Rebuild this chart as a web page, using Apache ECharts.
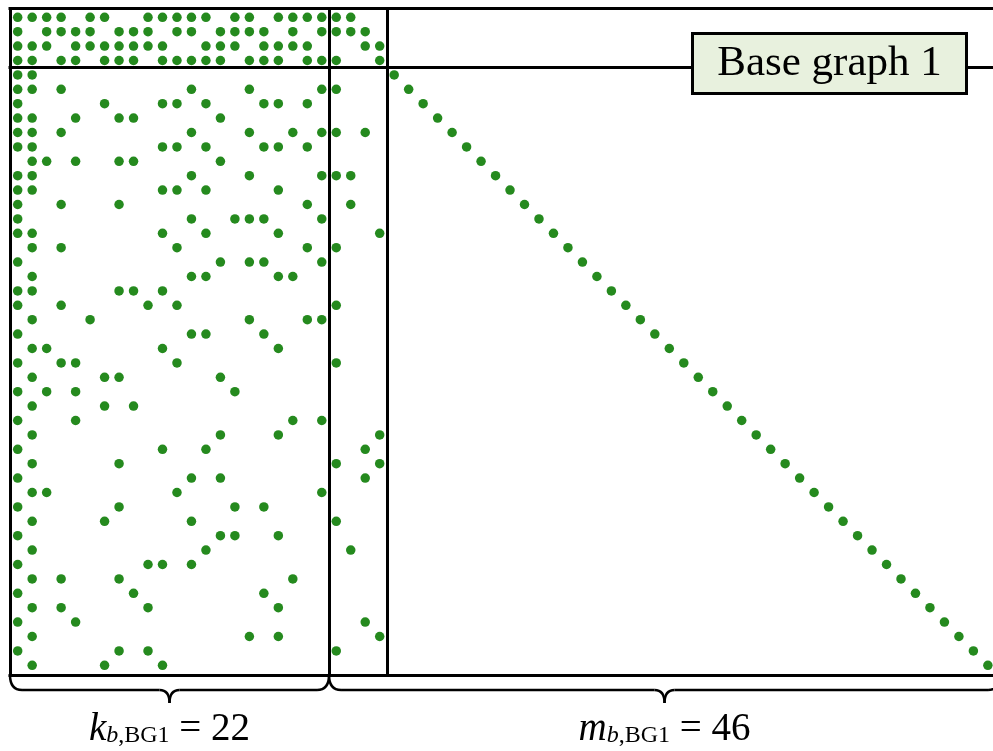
<!DOCTYPE html>
<html><head><meta charset="utf-8">
<script src="https://cdn.jsdelivr.net/npm/echarts@6/dist/echarts.min.js"></script>
<style>html,body{margin:0;padding:0;background:#fff}#c{width:993px;height:751px}</style>
</head><body><div id="c"></div>
<script>
// LDPC base graph 1: 46 rows x 68 columns, non-zero column indices per row
const kb = 22;          // information columns
const mb = 46;          // parity columns / rows
const coreParity = 4;   // core parity columns / core rows
const coreRows = [
  [0,1,2,3,5,6,9,10,11,12,13,15,16,18,19,20,21,22,23],
  [0,2,3,4,5,7,8,9,11,12,14,15,16,17,19,21,22,23,24],
  [0,1,2,4,5,6,7,8,9,10,13,14,15,17,18,19,20,24,25],
  [0,1,3,4,6,7,8,10,11,12,13,14,16,17,18,20,21,22,25]
];
const extRows = [
  [0,1,26],
  [0,1,3,12,16,21,22,27],
  [0,6,10,11,13,17,18,20,28],
  [0,1,4,7,8,14,29],
  [0,1,3,12,16,19,21,22,24,30],
  [0,1,10,11,13,17,18,20,31],
  [1,2,4,7,8,14,32],
  [0,1,12,16,21,22,23,33],
  [0,1,10,11,13,18,34],
  [0,3,7,20,23,35],
  [0,12,15,16,17,21,36],
  [0,1,10,13,18,25,37],
  [1,3,11,20,22,38],
  [0,14,16,17,21,39],
  [1,12,13,18,19,40],
  [0,1,7,8,10,41],
  [0,3,9,11,22,42],
  [1,5,16,20,21,43],
  [0,12,13,17,44],
  [1,2,10,18,45],
  [0,3,4,11,22,46],
  [1,6,7,14,47],
  [0,2,4,15,48],
  [1,6,8,49],
  [0,4,19,21,50],
  [1,14,18,25,51],
  [0,10,13,24,52],
  [1,7,22,25,53],
  [0,12,14,24,54],
  [1,2,11,21,55],
  [0,7,15,17,56],
  [1,6,12,22,57],
  [0,14,15,18,58],
  [1,13,23,59],
  [0,9,10,12,60],
  [1,3,7,19,61],
  [0,8,17,62],
  [1,3,9,18,63],
  [0,4,24,64],
  [1,16,18,25,65],
  [0,7,9,22,66],
  [1,6,10,67]
];
const titleText = 'Base graph 1';
const kLabel = {sym: 'k', sub: 'b', subRest: ',BG1', value: '22'};
const mLabel = {sym: 'm', sub: 'b', subRest: ',BG1', value: '46'};

const points = [];
coreRows.concat(extRows).forEach((cols, r) => cols.forEach(c => points.push([c, r])));

// frame extents in matrix units
const fL = -0.53, fR = 67.84, fT = -0.61, fB = 45.67;
const divK = kb - 0.5, divP = kb + coreParity - 0.5, divR = coreParity - 0.5;
const frameLines = [
  [[fL, fT], [fR, fT]],
  [[fL, divR], [fR, divR]],
  [[fL, fB], [fR, fB]],
  [[fL, fT], [fL, fB]],
  [[divK, fT], [divK, fB]],
  [[divP, fT], [divP, fB]]
].map(c => ({coords: c}));

const chart = echarts.init(document.getElementById('c'));
chart.setOption({
  animation: false,
  backgroundColor: '#ffffff',
  grid: {left: 0, right: 0, top: 0, bottom: 0},
  xAxis: {type: 'value', min: -1.222, max: 67.354, show: false},
  yAxis: {type: 'value', min: -1.201, max: 50.951, inverse: true, show: false},
  series: [
    {
      type: 'lines', coordinateSystem: 'cartesian2d', clip: false, z: 1,
      lineStyle: {color: '#000', width: 3, opacity: 1, cap: 'square'},
      data: frameLines
    },
    {
      type: 'scatter', symbol: 'circle', symbolSize: 9.5, z: 3, clip: false,
      itemStyle: {color: '#258a1e', opacity: 1},
      data: points
    }
  ]
});

const px = (x, y) => chart.convertToPixel({gridIndex: 0}, [x, y]);
const braceStyle = {stroke: '#000', lineWidth: 2.5, fill: null};
function braceParts(xa, xb, y0) {
  const d = 15, r = 12, tip = 13, w = 10, xm = (xa + xb) / 2, y1 = y0 + d;
  const bz = (x1, y1_, cx, cy, x2, y2) => ({type: 'bezierCurve', shape: {x1: x1, y1: y1_, x2: x2, y2: y2, cpx1: cx, cpy1: cy}, style: braceStyle});
  const ln = (x1, y1_, x2, y2) => ({type: 'line', shape: {x1: x1, y1: y1_, x2: x2, y2: y2}, style: braceStyle});
  return [
    bz(xa, y0, xa, y1, xa + r, y1),
    ln(xa + r, y1, xm - w, y1),
    bz(xm - w, y1, xm, y1, xm, y1 + tip),
    bz(xm, y1 + tip, xm, y1, xm + w, y1),
    ln(xm + w, y1, xb - r, y1),
    bz(xb - r, y1, xb, y1, xb, y0)
  ];
}
const serif = 'Liberation Serif';
function richLabel(l) {
  return {
    text: `{i|${l.sym}}{si|${l.sub}}{s|${l.subRest}}{n| = ${l.value}}`,
    rich: {
      i: {fontFamily: serif, fontSize: 39, fontStyle: 'italic', fill: '#000', verticalAlign: 'bottom'},
      si: {fontFamily: serif, fontSize: 24, fontStyle: 'italic', fill: '#000', verticalAlign: 'bottom', padding: [0, 0, 2, 0]},
      s: {fontFamily: serif, fontSize: 24, fill: '#000', verticalAlign: 'bottom', padding: [0, 0, 2, 0]},
      n: {fontFamily: serif, fontSize: 39, fill: '#000', verticalAlign: 'bottom'}
    },
    align: 'center', verticalAlign: 'middle'
  };
}
const [xL] = px(fL, 0), [xK, yB] = px(divK, fB), [xR] = px(fR, 0);
const [, yDiv] = px(0, divR);
chart.setOption({
  graphic: [].concat(
    braceParts(xL, xK, yB),
    braceParts(xK, xR, yB),
    [
      {type: 'text', x: (xL + xK) / 2, y: 730, style: richLabel(kLabel)},
      {type: 'text', x: (xK + xR) / 2, y: 730, style: richLabel(mLabel)},
      {type: 'rect', shape: {x: 692.5, y: 33.5, width: 274, height: 60}, z: 10,
        style: {fill: '#e8f1de', stroke: '#000', lineWidth: 3}},
      {type: 'text', x: 829.5, y: yDiv - 4, z: 11,
        style: {text: titleText, fontFamily: serif, fontSize: 43, fill: '#000', align: 'center', verticalAlign: 'middle'}}
    ]
  )
});
</script></body></html>
